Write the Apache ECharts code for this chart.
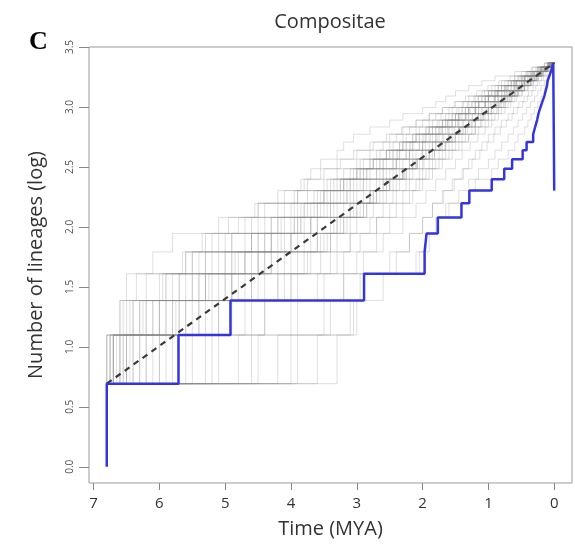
<!DOCTYPE html>
<html>
<head>
<meta charset="utf-8">
<script src="https://cdn.jsdelivr.net/npm/echarts@6/dist/echarts.min.js"></script>
<style>html,body{margin:0;padding:0;background:#fff}#chart{width:575px;height:550px}</style>
</head>
<body>
<div id="chart"></div>
<script>
// ---- data ----
var xTicks = [0, 1, 2, 3, 4, 5, 6, 7];
var yTicks = [0, 0.5, 1, 1.5, 2, 2.5, 3, 3.5];

// observed LTT (blue): event times (MYA) and lineage count after each event
var obsStartCount = 1;
var obsTimes  = [6.8, 5.71, 4.92, 2.89, 1.97, 1.94, 1.77, 1.41, 1.29, 0.95, 0.76, 0.64, 0.48, 0.42, 0.32, 0.29, 0.26, 0.24, 0.21, 0.18, 0.15, 0.13, 0.11, 0.10, 0.075, 0.05, 0.03, 0.015, 0];
var obsCounts = [2, 3, 4, 5, 6, 7, 8, 9, 10, 11, 12, 13, 14, 15, 16, 17, 18, 19, 20, 21, 22, 23, 24, 25, 26, 27, 28, 29, 10];

// expected (dashed) line endpoints
var expTimes  = [6.8, 0];
var expCounts = [2, 29];

// simulated LTT curves (gray): times at which lineage count goes 2->3, 3->4, ..., 28->29
var rootAge = 6.8;
var simStartCount = 2;
var sim01 = [6.75,6.6,6.5,6.1,5.8,4.7,4.4,3.95,3.75,3.7,3.55,3.3,3.2,3.05,2.8,2.5,2.3,2.0,1.8,1.65,1.5,1.3,1.1,0.9,0.6,0.35,0.15];
var sim02 = [6.5,6.2,5.9,5.5,5.0,4.6,4.2,3.9,3.5,3.3,3.0,2.8,2.6,2.4,2.2,2.0,1.8,1.6,1.4,1.2,1.0,0.8,0.65,0.5,0.35,0.2,0.08];
var sim03 = [3.6,3.05,2.95,2.05,1.95,1.75,1.6,1.3,1.2,0.95,0.85,0.7,0.6,0.55,0.45,0.4,0.35,0.3,0.25,0.2,0.15,0.12,0.1,0.07,0.05,0.03,0.01];
var sim04 = [6.3,5.6,5.2,4.9,4.3,3.7,3.4,3.1,2.9,2.6,2.4,2.2,2.0,1.85,1.7,1.5,1.35,1.2,1.05,0.9,0.75,0.6,0.5,0.4,0.3,0.18,0.07];
var sim05 = [6.7,5.8,4.6,4.3,3.9,3.6,3.2,3.0,2.7,2.5,2.3,2.1,1.9,1.75,1.6,1.45,1.3,1.15,1.0,0.85,0.7,0.55,0.45,0.35,0.25,0.15,0.05];
var sim06 = [5.9,5.4,4.8,4.5,4.1,3.8,3.5,3.2,3.0,2.7,2.4,2.25,2.05,1.9,1.7,1.55,1.4,1.2,1.05,0.9,0.8,0.65,0.5,0.38,0.26,0.14,0.04];
var sim07 = [6.6,6.0,5.5,4.7,4.0,3.6,3.3,2.8,2.6,2.3,2.15,2.0,1.8,1.6,1.45,1.3,1.2,1.0,0.9,0.75,0.6,0.5,0.4,0.3,0.2,0.1,0.03];
var sim08 = [4.8,4.4,4.0,3.7,3.45,3.2,2.9,2.7,2.5,2.3,2.1,1.95,1.8,1.6,1.45,1.3,1.15,1.0,0.85,0.72,0.6,0.5,0.4,0.3,0.2,0.12,0.04];
var sim09 = [6.8,6.4,5.3,4.9,4.4,3.9,3.1,2.9,2.65,2.45,2.2,2.0,1.85,1.7,1.55,1.4,1.25,1.1,0.95,0.8,0.68,0.55,0.45,0.33,0.22,0.13,0.05];
var sim10 = [5.5,5.1,4.7,4.2,3.8,3.4,3.1,2.8,2.55,2.3,2.1,1.9,1.7,1.55,1.4,1.25,1.1,0.95,0.82,0.7,0.58,0.47,0.37,0.28,0.19,0.1,0.03];
var sim11 = [6.2,5.7,5.0,4.6,4.2,3.9,3.6,3.35,3.1,2.85,2.6,2.35,2.15,1.95,1.75,1.55,1.35,1.2,1.05,0.9,0.75,0.6,0.48,0.36,0.25,0.15,0.06];
var sim12 = [4.2,3.9,3.5,3.2,2.95,2.7,2.5,2.3,2.1,1.95,1.8,1.65,1.5,1.35,1.2,1.1,1.0,0.85,0.75,0.65,0.55,0.45,0.35,0.25,0.17,0.1,0.03];
var sim13 = [6.75,6.3,5.8,5.3,4.9,4.5,4.0,3.6,3.3,3.0,2.8,2.55,2.3,2.1,1.9,1.7,1.5,1.35,1.2,1.05,0.9,0.75,0.6,0.45,0.32,0.2,0.08];
var sim14 = [5.8,5.3,4.4,4.1,3.7,3.3,3.0,2.75,2.5,2.25,2.05,1.85,1.65,1.5,1.35,1.2,1.05,0.92,0.8,0.68,0.56,0.45,0.35,0.26,0.18,0.1,0.04];
var sim15 = [6.6,6.2,5.6,5.1,4.5,4.1,3.75,3.4,3.15,2.9,2.65,2.45,2.25,2.05,1.85,1.65,1.45,1.3,1.15,1.0,0.85,0.7,0.57,0.44,0.3,0.17,0.06];
var sim16 = [3.9,3.5,3.2,2.9,2.7,2.5,2.3,2.15,2.0,1.85,1.7,1.55,1.4,1.3,1.15,1.0,0.9,0.8,0.7,0.6,0.5,0.4,0.32,0.24,0.16,0.09,0.02];
var sim17 = [6.5,5.9,5.4,4.8,4.4,4.0,3.7,3.45,3.2,2.95,2.75,2.5,2.3,2.1,1.9,1.7,1.55,1.4,1.25,1.1,0.95,0.8,0.65,0.5,0.36,0.22,0.09];
var sim18 = [6.1,5.2,4.9,4.5,4.15,3.85,3.55,3.25,2.95,2.7,2.45,2.2,2.0,1.8,1.6,1.45,1.3,1.15,1.0,0.86,0.72,0.58,0.46,0.35,0.24,0.13,0.05];
var sim19 = [6.7,6.5,6.0,5.6,5.2,4.8,4.5,4.1,3.8,3.5,3.25,3.0,2.75,2.5,2.3,2.1,1.9,1.7,1.5,1.3,1.1,0.95,0.8,0.6,0.42,0.26,0.1];
var sim20 = [5.1,4.6,4.2,3.8,3.5,3.25,3.0,2.75,2.55,2.35,2.15,1.95,1.75,1.6,1.45,1.3,1.15,1.0,0.87,0.75,0.63,0.52,0.41,0.31,0.21,0.12,0.04];
var sim21 = [6.4,5.5,5.1,4.4,4.0,3.7,3.4,3.15,2.85,2.6,2.4,2.2,2.0,1.8,1.65,1.5,1.35,1.2,1.05,0.9,0.76,0.62,0.5,0.38,0.27,0.16,0.06];
var sim22 = [6.8,6.0,5.7,5.3,4.7,4.2,3.8,3.5,3.2,2.95,2.7,2.45,2.25,2.05,1.85,1.65,1.5,1.35,1.2,1.05,0.9,0.76,0.62,0.48,0.34,0.21,0.08];
var sim23 = [4.5,4.0,3.6,3.3,3.1,2.8,2.6,2.4,2.2,2.0,1.85,1.7,1.55,1.4,1.25,1.12,1.0,0.88,0.77,0.66,0.55,0.45,0.36,0.27,0.18,0.1,0.03];
var sim24 = [6.55,6.1,5.4,5.0,4.6,4.3,3.95,3.65,3.35,3.05,2.8,2.55,2.35,2.15,1.95,1.75,1.55,1.4,1.25,1.1,0.95,0.8,0.66,0.52,0.38,0.24,0.1];
var sim25 = [3.3,3.0,2.6,2.4,2.2,2.0,1.85,1.7,1.55,1.4,1.3,1.2,1.1,1.0,0.9,0.8,0.7,0.62,0.54,0.46,0.39,0.32,0.25,0.19,0.13,0.07,0.02];
var sim26 = [6.0,5.6,5.0,4.7,4.3,3.95,3.6,3.3,3.05,2.8,2.55,2.35,2.15,1.95,1.75,1.6,1.45,1.3,1.15,1.0,0.85,0.7,0.57,0.44,0.31,0.19,0.07];
var sim27 = [6.7,6.4,6.2,5.5,4.9,4.3,3.9,3.55,3.25,3.0,2.75,2.5,2.3,2.1,1.9,1.7,1.5,1.35,1.2,1.05,0.9,0.75,0.6,0.46,0.33,0.2,0.07];
var sim28 = [5.3,4.9,4.1,3.75,3.4,3.1,2.85,2.6,2.4,2.2,2.0,1.82,1.65,1.5,1.35,1.2,1.07,0.95,0.83,0.71,0.6,0.49,0.39,0.29,0.2,0.11,0.04];
var sim29 = [6.45,5.75,5.25,4.85,4.5,4.15,3.8,3.5,3.2,2.9,2.65,2.4,2.2,2.0,1.8,1.62,1.45,1.3,1.15,1.0,0.86,0.72,0.58,0.45,0.32,0.19,0.07];
var sim30 = [4.0,3.1,2.9,2.1,1.9,1.8,1.65,1.45,1.3,1.15,1.0,0.9,0.8,0.7,0.62,0.55,0.48,0.42,0.36,0.3,0.25,0.2,0.15,0.11,0.07,0.04,0.01];
var sim31 = [6.7,5.1,4.0,3.4,3.1,2.7,2.4,2.2,2.05,1.9,1.75,1.6,1.45,1.3,1.2,1.05,0.95,0.85,0.74,0.64,0.54,0.45,0.36,0.27,0.19,0.11,0.04];
var sim32 = [6.6,6.3,4.2,3.0,2.6,2.3,2.1,1.95,1.8,1.65,1.5,1.4,1.28,1.16,1.05,0.95,0.85,0.75,0.66,0.57,0.48,0.4,0.32,0.24,0.16,0.09,0.03];
var sim33 = [6.5,5.7,5.3,4.4,3.6,3.3,2.85,2.45,2.25,2.05,1.9,1.75,1.6,1.45,1.32,1.2,1.08,0.96,0.85,0.74,0.63,0.52,0.42,0.32,0.22,0.13,0.05];
var sim34 = [6.75,6.45,5.9,5.6,5.3,5.1,4.5,3.9,3.4,3.1,2.9,2.65,2.45,2.25,2.05,1.85,1.65,1.48,1.32,1.16,1.0,0.85,0.7,0.55,0.4,0.25,0.1];
var sim35 = [6.3,5.9,5.5,5.0,4.6,4.2,3.85,3.5,3.25,3.0,2.75,2.55,2.35,2.15,1.95,1.78,1.6,1.45,1.3,1.15,1.0,0.85,0.7,0.55,0.4,0.25,0.1];
var sim36 = [5.6,4.4,3.9,3.55,3.3,3.0,2.75,2.55,2.35,2.15,1.98,1.82,1.66,1.52,1.38,1.25,1.12,1.0,0.88,0.77,0.66,0.55,0.44,0.34,0.24,0.14,0.05];
var sim37 = [6.65,6.55,6.35,5.2,4.6,3.85,3.45,3.15,2.9,2.65,2.45,2.25,2.05,1.88,1.72,1.56,1.42,1.28,1.14,1.0,0.87,0.74,0.61,0.48,0.35,0.22,0.09];
var sim38 = [6.2,5.8,4.9,4.0,3.55,3.2,2.95,2.65,2.45,2.25,2.08,1.9,1.74,1.58,1.44,1.3,1.17,1.04,0.92,0.8,0.68,0.57,0.46,0.35,0.25,0.15,0.05];
var sim39 = [6.7,6.1,5.7,5.4,5.1,4.4,4.1,3.75,3.45,3.2,2.95,2.7,2.5,2.3,2.1,1.9,1.72,1.55,1.38,1.22,1.06,0.9,0.75,0.6,0.44,0.28,0.12];
var sim40 = [5.2,4.7,4.5,3.9,3.6,3.35,3.05,2.8,2.6,2.4,2.2,2.02,1.85,1.68,1.52,1.38,1.24,1.1,0.97,0.85,0.72,0.6,0.48,0.37,0.26,0.15,0.05];
var sim41 = [6.4,6.0,5.3,4.7,4.3,3.95,3.65,3.4,3.1,2.85,2.6,2.38,2.18,1.98,1.8,1.62,1.46,1.3,1.15,1.0,0.86,0.72,0.58,0.45,0.32,0.2,0.07];
var sim42 = [6.8,6.6,4.9,4.5,3.4,3.15,2.9,2.7,2.5,2.28,2.08,1.9,1.72,1.56,1.42,1.28,1.15,1.02,0.9,0.78,0.67,0.56,0.45,0.34,0.24,0.14,0.05];
var sim43 = [6.0,5.4,4.6,4.3,4.0,3.7,3.35,3.05,2.8,2.55,2.35,2.15,1.96,1.78,1.62,1.47,1.33,1.19,1.05,0.92,0.79,0.66,0.53,0.41,0.29,0.17,0.06];
var sim44 = [6.55,6.25,5.95,5.65,5.35,4.95,4.55,4.2,3.85,3.55,3.3,3.05,2.8,2.55,2.32,2.1,1.9,1.7,1.52,1.35,1.18,1.01,0.84,0.67,0.5,0.33,0.15];
var sim45 = [4.6,3.4,3.2,2.5,2.2,2.0,1.85,1.68,1.52,1.38,1.25,1.13,1.02,0.92,0.82,0.73,0.64,0.56,0.48,0.41,0.34,0.28,0.22,0.16,0.11,0.06,0.02];
var simCurves = [sim01,sim02,sim03,sim04,sim05,sim06,sim07,sim08,sim09,sim10,sim11,sim12,sim13,sim14,sim15,
                 sim16,sim17,sim18,sim19,sim20,sim21,sim22,sim23,sim24,sim25,sim26,sim27,sim28,sim29,sim30,
                 sim31,sim32,sim33,sim34,sim35,sim36,sim37,sim38,sim39,sim40,sim41,sim42,sim43,sim44,sim45];

// ---- build step paths ----
function stepPath(startTime, startCount, times, counts) {
  var pts = [[startTime, Math.log(startCount)]];
  var prev = startCount;
  for (var i = 0; i < times.length; i++) {
    pts.push([times[i], Math.log(prev)]);
    pts.push([times[i], Math.log(counts[i])]);
    prev = counts[i];
  }
  return pts;
}

var series = [];
simCurves.forEach(function (tms) {
  var cnts = tms.map(function (_, i) { return simStartCount + i + 1; });
  var pts = stepPath(rootAge, simStartCount, tms, cnts);
  pts.push([0, Math.log(cnts[cnts.length - 1])]);
  series.push({
    type: 'line', data: pts, showSymbol: false, silent: true,
    lineStyle: { color: 'rgba(135,135,135,0.27)', width: 1 }, z: 1
  });
});

series.push({
  type: 'line',
  data: expTimes.map(function (t, i) { return [t, Math.log(expCounts[i])]; }),
  showSymbol: false, silent: true,
  lineStyle: { color: '#3a3a3a', width: 2.2, type: [6, 5] }, z: 3
});

series.push({
  type: 'line',
  data: stepPath(obsTimes[0], obsStartCount, obsTimes, obsCounts),
  showSymbol: false, silent: true,
  lineStyle: { color: '#3535dd', width: 2.5 }, z: 4
});

var chart = echarts.init(document.getElementById('chart'), null, { renderer: 'canvas' });
chart.setOption({
  animation: false,
  backgroundColor: '#fff',
  textStyle: { fontFamily: 'Open Sans' },
  grid: { left: 89, right: 3, top: 47, bottom: 67, show: true, borderColor: '#9a9a9a', borderWidth: 1, backgroundColor: 'transparent' },
  xAxis: {
    type: 'value', inverse: true, min: -0.27, max: 7.07, position: 'bottom',
    name: 'Time (MYA)', nameLocation: 'middle', nameGap: 36,
    nameTextStyle: { fontSize: 20, color: '#333', fontFamily: 'Open Sans' },
    axisLine: { show: false, onZero: false },
    axisTick: { show: true, length: 7, customValues: xTicks, lineStyle: { color: '#888' } },
    axisLabel: { customValues: xTicks, fontSize: 15, color: '#333', margin: 13, fontFamily: 'Open Sans' },
    splitLine: { show: false }
  },
  yAxis: {
    type: 'value', min: -0.135, max: 3.5, position: 'left',
    name: 'Number of lineages (log)', nameLocation: 'middle', nameGap: 43,
    nameTextStyle: { fontSize: 20, color: '#333', fontFamily: 'Open Sans' },
    axisLine: { show: false, onZero: false },
    axisTick: { show: true, length: 10, customValues: yTicks, lineStyle: { color: '#888' } },
    axisLabel: { customValues: yTicks, rotate: 90, fontSize: 10, color: '#555', margin: 14,
      formatter: function (v) { return v.toFixed(1); } },
    splitLine: { show: false }
  },
  graphic: [
    { type: 'text', left: 29, top: 29, style: { text: 'C', font: 'bold 26px "Liberation Serif"', fill: '#000' } },
    { type: 'text', x: 330, y: 22, style: { text: 'Compositae', font: '20px "Open Sans"', fill: '#333', align: 'center', verticalAlign: 'middle' } }
  ],
  series: series
});
</script>
</body>
</html>
